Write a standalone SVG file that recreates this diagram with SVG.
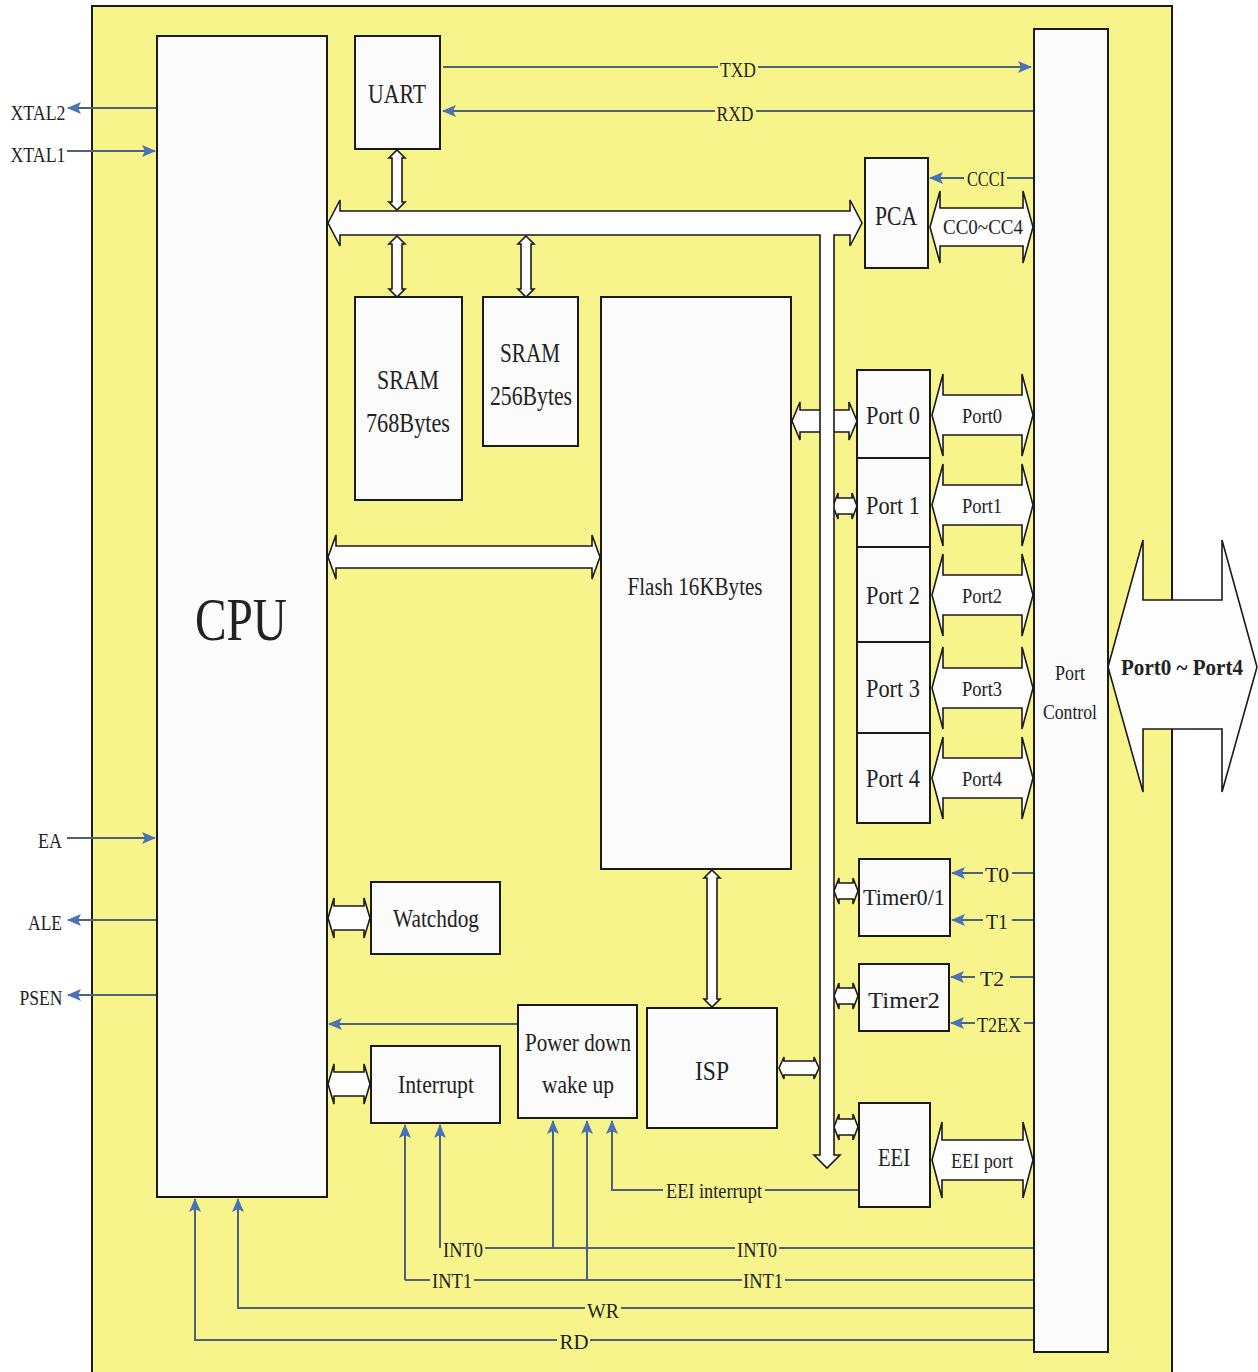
<svg xmlns="http://www.w3.org/2000/svg" width="1258" height="1372" viewBox="0 0 1258 1372">
<style>
.box{fill:#FBFBFB;stroke:#1a1a1a;stroke-width:2}
.bus{fill:#FDFDFD;stroke:#1a1a1a;stroke-width:1.6;stroke-linejoin:miter}
.ln{fill:none;stroke:#4F627A;stroke-width:2}
.t{font-family:"Liberation Serif","Times New Roman",serif;fill:#222;text-anchor:middle}
.s20{font-size:20px}.s22{font-size:22px}.s24{font-size:24px}.s26{font-size:26px}.s28{font-size:28px}
</style>
<defs>
<marker id="ah" markerWidth="14" markerHeight="12" refX="13" refY="6" orient="auto" markerUnits="userSpaceOnUse">
<path d="M0,0 L14,6 L0,12 L3,6 Z" fill="#4A72B8"/>
</marker>
</defs>
<rect x="0" y="0" width="1258" height="1372" fill="#FFFFFF"/>
<rect id="chip" x="92" y="6" width="1080" height="1380" fill="#F8F48C" stroke="#1a1a1a" stroke-width="2"/>

<g id="connectors">
<!-- pins -->
<line class="ln" x1="157" y1="108" x2="68" y2="108" marker-end="url(#ah)"/>
<line class="ln" x1="67" y1="151" x2="155" y2="151" marker-end="url(#ah)"/>
<line class="ln" x1="67" y1="838" x2="155" y2="838" marker-end="url(#ah)"/>
<line class="ln" x1="157" y1="920" x2="68" y2="920" marker-end="url(#ah)"/>
<line class="ln" x1="157" y1="995" x2="68" y2="995" marker-end="url(#ah)"/>
<!-- TXD / RXD -->
<line class="ln" x1="443" y1="67" x2="718" y2="67"/>
<line class="ln" x1="758" y1="67" x2="1031" y2="67" marker-end="url(#ah)"/>
<line class="ln" x1="1033" y1="111" x2="756" y2="111"/>
<line class="ln" x1="715" y1="111" x2="443" y2="111" marker-end="url(#ah)"/>
<!-- CCCI -->
<line class="ln" x1="1033" y1="178" x2="1007" y2="178"/>
<line class="ln" x1="964" y1="178" x2="930" y2="178" marker-end="url(#ah)"/>
<!-- Timers -->
<line class="ln" x1="1033" y1="873" x2="1012" y2="873"/>
<line class="ln" x1="983" y1="873" x2="952" y2="873" marker-end="url(#ah)"/>
<line class="ln" x1="1033" y1="920" x2="1012" y2="920"/>
<line class="ln" x1="983" y1="920" x2="952" y2="920" marker-end="url(#ah)"/>
<line class="ln" x1="1033" y1="977" x2="1010" y2="977"/>
<line class="ln" x1="975" y1="977" x2="951" y2="977" marker-end="url(#ah)"/>
<line class="ln" x1="1033" y1="1023" x2="1024" y2="1023"/>
<line class="ln" x1="975" y1="1023" x2="951" y2="1023" marker-end="url(#ah)"/>
<!-- Power down -> CPU -->
<line class="ln" x1="518" y1="1024" x2="329" y2="1024" marker-end="url(#ah)"/>
<!-- EEI interrupt -->
<line class="ln" x1="858" y1="1190" x2="765" y2="1190"/>
<path class="ln" d="M663,1190 H612 V1121" marker-end="url(#ah)"/>
<!-- INT0 -->
<line class="ln" x1="440" y1="1248" x2="440" y2="1125" marker-end="url(#ah)"/>
<line class="ln" x1="485" y1="1248" x2="735" y2="1248"/>
<line class="ln" x1="779" y1="1248" x2="1033" y2="1248"/>
<line class="ln" x1="553" y1="1248" x2="553" y2="1121" marker-end="url(#ah)"/>
<!-- INT1 -->
<line class="ln" x1="405" y1="1280" x2="405" y2="1125" marker-end="url(#ah)"/>
<line class="ln" x1="405" y1="1280" x2="430" y2="1280"/>
<line class="ln" x1="474" y1="1280" x2="742" y2="1280"/>
<line class="ln" x1="785" y1="1280" x2="1033" y2="1280"/>
<line class="ln" x1="587" y1="1280" x2="587" y2="1121" marker-end="url(#ah)"/>
<!-- WR -->
<path class="ln" d="M585,1308 H238 V1199" marker-end="url(#ah)"/>
<line class="ln" x1="621" y1="1308" x2="1033" y2="1308"/>
<!-- RD -->
<path class="ln" d="M557,1340 H195 V1199" marker-end="url(#ah)"/>
<line class="ln" x1="590" y1="1340" x2="1033" y2="1340"/>

<!-- hollow bus arrows -->
<polygon class="bus" points="328,918 334,898 334,906 364,906 364,898 370,918 364,938 364,930 334,930 334,938"/>
<polygon class="bus" points="328,1084 334,1064 334,1072 364,1072 364,1064 370,1084 364,1104 364,1096 334,1096 334,1104"/>
<polygon class="bus" points="328,557 336,535 336,546 592,546 592,535 600,557 592,579 592,568 336,568 336,579"/>
<polygon class="bus" points="792,421 800,402 800,410 849,410 849,402 857,421 849,440 849,432 800,432 800,440"/>
<polygon class="bus" points="833,506 838,493 838,498 852,498 852,493 857,506 852,519 852,514 838,514 838,519"/>
<polygon class="bus" points="834,891 839,878 839,883 853,883 853,878 858,891 853,904 853,899 839,899 839,904"/>
<polygon class="bus" points="834,996 839,983 839,988 853,988 853,983 858,996 853,1009 853,1004 839,1004 839,1009"/>
<polygon class="bus" points="834,1127 839,1114 839,1119 853,1119 853,1114 858,1127 853,1140 853,1135 839,1135 839,1140"/>
<polygon class="bus" points="779,1068 784,1057 784,1061 814,1061 814,1057 819,1068 814,1079 814,1075 784,1075 784,1079"/>
<polygon class="bus" points="932,415 943,374 943,395 1022,395 1022,374 1033,415 1022,456 1022,435 943,435 943,456"/>
<polygon class="bus" points="932,505 943,464 943,485 1022,485 1022,464 1033,505 1022,546 1022,525 943,525 943,546"/>
<polygon class="bus" points="932,595 943,554 943,575 1022,575 1022,554 1033,595 1022,636 1022,615 943,615 943,636"/>
<polygon class="bus" points="932,688 943,647 943,668 1022,668 1022,647 1033,688 1022,729 1022,708 943,708 943,729"/>
<polygon class="bus" points="932,778 943,737 943,758 1022,758 1022,737 1033,778 1022,819 1022,798 943,798 943,819"/>
<polygon class="bus" points="930,227 940,191 940,208 1023,208 1023,191 1033,227 1023,263 1023,246 940,246 940,263"/>
<polygon class="bus" points="932,1160 942,1122 942,1140 1023,1140 1023,1122 1033,1160 1023,1198 1023,1180 942,1180 942,1198"/>
<polygon class="bus" points="397,150 405,158 402,158 402,202 405,202 397,210 389,202 392,202 392,158 389,158"/>
<polygon class="bus" points="397,236 405,244 402,244 402,289 405,289 397,297 389,289 392,289 392,244 389,244"/>
<polygon class="bus" points="526,236 534,244 531,244 531,289 534,289 526,297 518,289 521,289 521,244 518,244"/>
<polygon class="bus" points="712,870 720,878 717,878 717,999 720,999 712,1007 704,999 707,999 707,878 704,878"/>
<!-- main bus -->
<polygon class="bus" points="328,223 340,200 340,211 850,211 850,200 862,223 850,246 850,235 834,235 834,1155 840,1155 827,1168 814,1155 820,1155 820,235 340,235 340,246"/>
<!-- external port arrow -->
<polygon class="bus" points="1108,667 1143,540 1143,600 1222,600 1222,540 1257,667 1222,792 1222,729 1143,729 1143,792"/>
</g>

<g id="labels">
<text class="t s22" x="38" y="120" textLength="55" lengthAdjust="spacingAndGlyphs">XTAL2</text>
<text class="t s22" x="38" y="162" textLength="55" lengthAdjust="spacingAndGlyphs">XTAL1</text>
<text class="t s22" x="50" y="848" textLength="24" lengthAdjust="spacingAndGlyphs">EA</text>
<text class="t s22" x="45" y="930" textLength="34" lengthAdjust="spacingAndGlyphs">ALE</text>
<text class="t s22" x="41" y="1005" textLength="43" lengthAdjust="spacingAndGlyphs">PSEN</text>
<text class="t s22" x="738" y="77" textLength="36" lengthAdjust="spacingAndGlyphs">TXD</text>
<text class="t s22" x="735" y="121" textLength="37" lengthAdjust="spacingAndGlyphs">RXD</text>
<text class="t s20" x="986" y="186" textLength="38" lengthAdjust="spacingAndGlyphs">CCCI</text>
<text class="t s20" x="997" y="882" textLength="24" lengthAdjust="spacingAndGlyphs">T0</text>
<text class="t s20" x="997" y="929" textLength="22" lengthAdjust="spacingAndGlyphs">T1</text>
<text class="t s20" x="992" y="986" textLength="24" lengthAdjust="spacingAndGlyphs">T2</text>
<text class="t s20" x="999" y="1032" textLength="44" lengthAdjust="spacingAndGlyphs">T2EX</text>
<text class="t s20" x="714" y="1198" textLength="96" lengthAdjust="spacingAndGlyphs">EEI interrupt</text>
<text class="t s20" x="463" y="1257" textLength="40" lengthAdjust="spacingAndGlyphs">INT0</text>
<text class="t s20" x="757" y="1257" textLength="40" lengthAdjust="spacingAndGlyphs">INT0</text>
<text class="t s20" x="452" y="1288" textLength="40" lengthAdjust="spacingAndGlyphs">INT1</text>
<text class="t s20" x="763" y="1288" textLength="40" lengthAdjust="spacingAndGlyphs">INT1</text>
<text class="t s20" x="603" y="1318" textLength="32" lengthAdjust="spacingAndGlyphs">WR</text>
<text class="t s20" x="574" y="1349" textLength="29" lengthAdjust="spacingAndGlyphs">RD</text>
<text class="t s20" x="983" y="234" textLength="80" lengthAdjust="spacingAndGlyphs">CC0~CC4</text>
<text class="t s20" x="982" y="423" textLength="40" lengthAdjust="spacingAndGlyphs">Port0</text>
<text class="t s20" x="982" y="513" textLength="40" lengthAdjust="spacingAndGlyphs">Port1</text>
<text class="t s20" x="982" y="603" textLength="40" lengthAdjust="spacingAndGlyphs">Port2</text>
<text class="t s20" x="982" y="696" textLength="40" lengthAdjust="spacingAndGlyphs">Port3</text>
<text class="t s20" x="982" y="786" textLength="40" lengthAdjust="spacingAndGlyphs">Port4</text>
<text class="t s20" x="982" y="1168" textLength="62" lengthAdjust="spacingAndGlyphs">EEI port</text>
<text class="t s24" x="1182" y="675" font-weight="bold" textLength="122" lengthAdjust="spacingAndGlyphs">Port0 ~ Port4</text>
</g>

<g id="cpu"><rect class="box" x="157" y="36" width="170" height="1161"/>
<text class="t" x="241" y="640" font-size="62" textLength="92" lengthAdjust="spacingAndGlyphs">CPU</text></g>
<g id="uart"><rect class="box" x="355" y="36" width="85" height="113"/>
<text class="t s28" x="397" y="103" textLength="58" lengthAdjust="spacingAndGlyphs">UART</text></g>
<g id="pca"><rect class="box" x="865" y="158" width="63" height="110"/>
<text class="t s28" x="896" y="225" textLength="42" lengthAdjust="spacingAndGlyphs">PCA</text></g>
<g id="sram768"><rect class="box" x="355" y="297" width="107" height="203"/>
<text class="t s28" x="408" y="389" textLength="62" lengthAdjust="spacingAndGlyphs">SRAM</text>
<text class="t s28" x="408" y="432" textLength="84" lengthAdjust="spacingAndGlyphs">768Bytes</text></g>
<g id="sram256"><rect class="box" x="483" y="297" width="95" height="149"/>
<text class="t s28" x="530" y="362" textLength="60" lengthAdjust="spacingAndGlyphs">SRAM</text>
<text class="t s28" x="531" y="405" textLength="82" lengthAdjust="spacingAndGlyphs">256Bytes</text></g>
<g id="flash"><rect class="box" x="601" y="297" width="190" height="572"/>
<text class="t s26" x="695" y="595" textLength="135" lengthAdjust="spacingAndGlyphs">Flash 16KBytes</text></g>
<g id="port0"><rect class="box" x="857" y="370" width="73" height="88"/>
<text class="t s26" x="893" y="424" textLength="54" lengthAdjust="spacingAndGlyphs">Port 0</text></g>
<g id="port1"><rect class="box" x="857" y="458" width="73" height="89"/>
<text class="t s26" x="893" y="514" textLength="54" lengthAdjust="spacingAndGlyphs">Port 1</text></g>
<g id="port2"><rect class="box" x="857" y="547" width="73" height="95"/>
<text class="t s26" x="893" y="604" textLength="54" lengthAdjust="spacingAndGlyphs">Port 2</text></g>
<g id="port3"><rect class="box" x="857" y="642" width="73" height="91"/>
<text class="t s26" x="893" y="697" textLength="54" lengthAdjust="spacingAndGlyphs">Port 3</text></g>
<g id="port4"><rect class="box" x="857" y="733" width="73" height="90"/>
<text class="t s26" x="893" y="787" textLength="54" lengthAdjust="spacingAndGlyphs">Port 4</text></g>
<g id="portcontrol"><rect class="box" x="1034" y="29" width="74" height="1323"/>
<text class="t s20" x="1070" y="680" textLength="30" lengthAdjust="spacingAndGlyphs">Port</text>
<text class="t s20" x="1070" y="719" textLength="54" lengthAdjust="spacingAndGlyphs">Control</text></g>
<g id="timer01"><rect class="box" x="859" y="859" width="91" height="77"/>
<text class="t s24" x="904" y="905" textLength="82" lengthAdjust="spacingAndGlyphs">Timer0/1</text></g>
<g id="timer2"><rect class="box" x="859" y="964" width="90" height="67"/>
<text class="t s24" x="904" y="1008" textLength="72" lengthAdjust="spacingAndGlyphs">Timer2</text></g>
<g id="eei"><rect class="box" x="859" y="1103" width="71" height="104"/>
<text class="t s26" x="894" y="1166" textLength="32" lengthAdjust="spacingAndGlyphs">EEI</text></g>
<g id="isp"><rect class="box" x="647" y="1008" width="130" height="120"/>
<text class="t s28" x="712" y="1080" textLength="34" lengthAdjust="spacingAndGlyphs">ISP</text></g>
<g id="powerdown"><rect class="box" x="518" y="1005" width="119" height="113"/>
<text class="t s26" x="578" y="1051" textLength="106" lengthAdjust="spacingAndGlyphs">Power down</text>
<text class="t s26" x="578" y="1093" textLength="72" lengthAdjust="spacingAndGlyphs">wake up</text></g>
<g id="interrupt"><rect class="box" x="371" y="1046" width="129" height="77"/>
<text class="t s26" x="436" y="1093" textLength="76" lengthAdjust="spacingAndGlyphs">Interrupt</text></g>
<g id="watchdog"><rect class="box" x="371" y="882" width="129" height="72"/>
<text class="t s26" x="436" y="927" textLength="86" lengthAdjust="spacingAndGlyphs">Watchdog</text></g>
</svg>
